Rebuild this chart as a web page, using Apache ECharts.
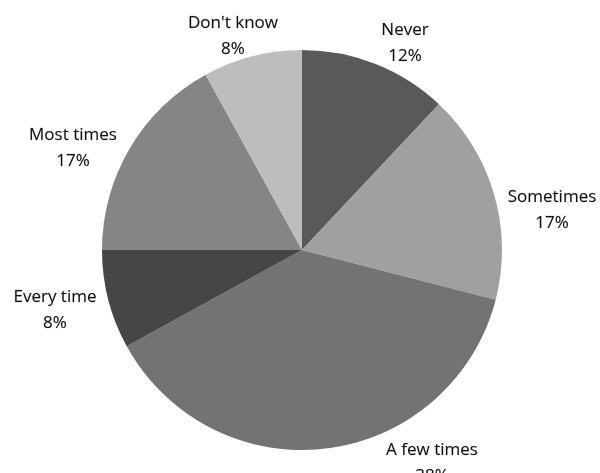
<!DOCTYPE html>
<html><head><meta charset="utf-8">
<script src="https://cdn.jsdelivr.net/npm/echarts@6/dist/echarts.min.js"></script>
<style>html,body{margin:0;padding:0;background:#fff}#c{width:600px;height:473px}</style>
</head><body><div id="c"></div>
<script>
const categories = ["Never", "Sometimes", "A few times", "Every time", "Most times", "Don't know"];
const values = [12, 17, 38, 8, 17, 8];
const colors = ["#595959", "#a0a0a0", "#737373", "#464646", "#858585", "#bdbdbd"];
// label block centres (text placement, as in the original Excel-style layout)
const labelCenters = [[405, 43], [552, 210], [432, 463], [55, 310], [73, 148], [233, 36]];

const chart = echarts.init(document.getElementById('c'), null, {renderer: 'canvas'});
chart.setOption({
  animation: false,
  series: [{
    type: 'pie',
    center: [302, 250],
    radius: 200,
    startAngle: 90,
    clockwise: true,
    avoidLabelOverlap: false,
    data: categories.map((c, i) => ({name: c, value: values[i], itemStyle: {color: colors[i]}})),
    itemStyle: {borderWidth: 0},
    label: {
      show: true,
      position: 'outside',
      formatter: '{b}\n{c}%',
      fontFamily: 'Open Sans',
      fontSize: 17,
      lineHeight: 26,
      color: '#111',
      align: 'center',
      textBorderColor: 'rgba(17,17,17,0.35)',
      textBorderWidth: 0.4
    },
    labelLine: {show: false, length: 15, length2: 0},
    labelLayout: function (p) {
      const c = labelCenters[p.dataIndex];
      return {x: c[0], y: c[1], align: 'center', verticalAlign: 'middle'};
    },
    emphasis: {disabled: true}
  }]
});
</script></body></html>
